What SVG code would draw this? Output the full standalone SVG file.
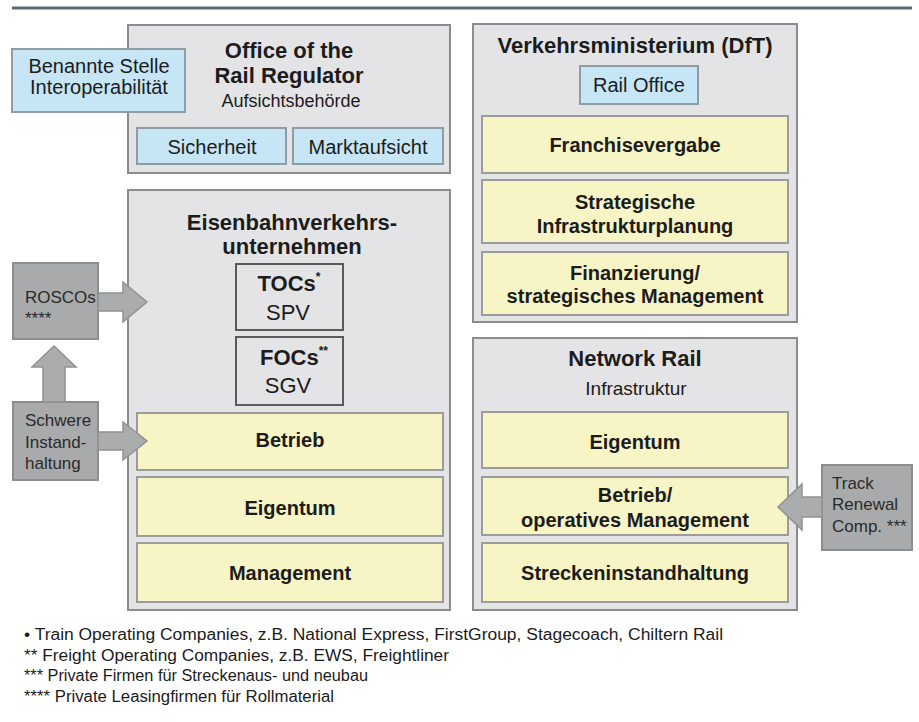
<svg xmlns="http://www.w3.org/2000/svg" width="919" height="722" viewBox="0 0 919 722">
<style>
text{font-family:"Liberation Sans",Arial,sans-serif;fill:#1c1c1c}
.c{text-anchor:middle}
.t{font-size:22px;font-weight:bold}
.r{font-size:20px}
.b{font-size:20px;font-weight:bold}
.s{font-size:17px;fill:#2a2a2a}
.f{font-size:16px}
.outer{fill:#e4e4e6;stroke:#8c8c8e;stroke-width:2}
.blue{fill:#c6e6f6;stroke:#8f9ca4;stroke-width:2}
.yel{fill:#f7f4c6;stroke:#9c9c9c;stroke-width:2}
.dark{fill:#a9aaac;stroke:#8c8d8f;stroke-width:2}
.inner{fill:#e4e4e6;stroke:#5a5a5a;stroke-width:2}
.arrow{fill:#abacae;stroke:#909193;stroke-width:1.5}
</style>
<line x1="12" y1="8" x2="912" y2="8" stroke="#5b6b73" stroke-width="3"/>

<g id="orr">
<rect class="outer" x="128" y="25" width="322" height="148"/>
<text class="c t" x="289" y="58">Office of the</text>
<text class="c t" x="289" y="83">Rail Regulator</text>
<text class="c" x="291" y="107" font-size="18">Aufsichtsbehörde</text>
</g>
<g id="sicherheit">
<rect class="blue" x="137" y="128" width="149" height="36"/>
<text class="c r" x="212" y="154">Sicherheit</text>
</g>
<g id="marktaufsicht">
<rect class="blue" x="293" y="128" width="150" height="36"/>
<text class="c r" x="368" y="154">Marktaufsicht</text>
</g>
<g id="benannte">
<rect class="blue" x="12" y="49" width="173" height="63"/>
<text class="c r" x="99" y="73">Benannte Stelle</text>
<text class="c r" x="99" y="94">Interoperabilität</text>
</g>

<g id="dft">
<rect class="outer" x="473" y="24" width="324" height="298"/>
<text class="c t" x="635" y="53">Verkehrsministerium (DfT)</text>
</g>
<g id="railoffice">
<rect class="blue" x="580" y="66" width="118" height="38"/>
<text class="c r" x="639" y="92">Rail Office</text>
</g>
<g id="franchise">
<rect class="yel" x="482" y="116" width="306" height="57"/>
<text class="c b" x="635" y="152">Franchisevergabe</text>
</g>
<g id="strategische">
<rect class="yel" x="482" y="180" width="306" height="63"/>
<text class="c b" x="635" y="209">Strategische</text>
<text class="c b" x="635" y="233">Infrastrukturplanung</text>
</g>
<g id="finanzierung">
<rect class="yel" x="482" y="252" width="306" height="63"/>
<text class="c b" x="635" y="280">Finanzierung/</text>
<text class="c b" x="635" y="303">strategisches Management</text>
</g>

<g id="evu">
<rect class="outer" x="128" y="190" width="322" height="420"/>
<text class="c t" x="292" y="230">Eisenbahnverkehrs-</text>
<text class="c t" x="292" y="254">unternehmen</text>
</g>
<g id="tocs">
<rect class="inner" x="236" y="264" width="107" height="66"/>
<text class="c t" x="289" y="291">TOCs<tspan font-size="12" dy="-10">*</tspan></text>
<text class="c" x="288" y="320" font-size="22">SPV</text>
</g>
<g id="focs">
<rect class="inner" x="236" y="337" width="107" height="68"/>
<text class="c t" x="294" y="365">FOCs<tspan font-size="12" dy="-10">**</tspan></text>
<text class="c" x="288" y="393" font-size="22">SGV</text>
</g>
<g id="evu-betrieb">
<rect class="yel" x="137" y="413" width="306" height="57"/>
<text class="c b" x="290" y="447">Betrieb</text>
</g>
<g id="evu-eigentum">
<rect class="yel" x="137" y="477" width="306" height="59"/>
<text class="c b" x="290" y="515">Eigentum</text>
</g>
<g id="evu-management">
<rect class="yel" x="137" y="543" width="306" height="59"/>
<text class="c b" x="290" y="580">Management</text>
</g>

<g id="networkrail">
<rect class="outer" x="473" y="338" width="324" height="272"/>
<text class="c t" x="635" y="366">Network Rail</text>
<text class="c" x="636" y="395" font-size="19">Infrastruktur</text>
</g>
<g id="nr-eigentum">
<rect class="yel" x="482" y="412" width="306" height="56"/>
<text class="c b" x="635" y="449">Eigentum</text>
</g>
<g id="nr-betrieb">
<rect class="yel" x="482" y="477" width="306" height="58"/>
<text class="c b" x="635" y="502">Betrieb/</text>
<text class="c b" x="635" y="527">operatives Management</text>
</g>
<g id="nr-strecken">
<rect class="yel" x="482" y="543" width="306" height="59"/>
<text class="c b" x="635" y="580">Streckeninstandhaltung</text>
</g>

<g id="roscos">
<rect class="dark" x="13" y="263" width="85" height="76"/>
<text class="s" x="25" y="303">ROSCOs</text>
<text class="s" x="25" y="324">****</text>
</g>
<g id="schwere">
<rect class="dark" x="13" y="402" width="85" height="78"/>
<text class="s" x="25" y="426">Schwere</text>
<text class="s" x="25" y="448">Instand-</text>
<text class="s" x="25" y="469">haltung</text>
</g>
<g id="track">
<rect class="dark" x="822" y="465" width="90" height="85"/>
<text class="s" x="832" y="489">Track</text>
<text class="s" x="832" y="510">Renewal</text>
<text class="s" x="832" y="532">Comp. ***</text>
</g>

<g id="connectors">
<polygon class="arrow" points="98,293 123,293 123,282 147,302 123,322 123,311 98,311"/>
<polygon class="arrow" points="43,402 43,367 32,367 54,346 76,367 65,367 65,402"/>
<polygon class="arrow" points="98,432 123,432 123,422 147,441 123,460 123,450 98,450"/>
<polygon class="arrow" points="822,497 802,497 802,484 778,507 802,530 802,517 822,517"/>
</g>

<g id="footnotes">
<text class="f" x="24" y="640" textLength="699" lengthAdjust="spacingAndGlyphs">• Train Operating Companies, z.B. National Express, FirstGroup, Stagecoach, Chiltern Rail</text>
<text class="f" x="24" y="661" textLength="425" lengthAdjust="spacingAndGlyphs">** Freight Operating Companies, z.B. EWS, Freightliner</text>
<text class="f" x="24" y="681" textLength="344" lengthAdjust="spacingAndGlyphs">*** Private Firmen für Streckenaus- und neubau</text>
<text class="f" x="24" y="702" textLength="310" lengthAdjust="spacingAndGlyphs">**** Private Leasingfirmen für Rollmaterial</text>
</g>
</svg>
